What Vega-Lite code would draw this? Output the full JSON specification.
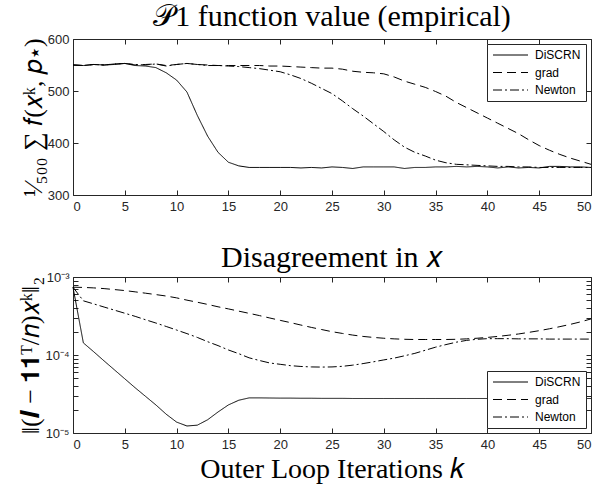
{
  "$schema": "https://vega.github.io/schema/vega-lite/v6.json",
  "background": "white",
  "padding": {"left": 17, "top": 1, "right": 9, "bottom": 0},
  "spacing": 28,
  "config": {
    "view": {"stroke": "#262626", "strokeWidth": 1},
    "axis": {
      "domain": false, "grid": false, "ticks": true, "tickSize": -5, "tickColor": "#262626",
      "labelFont": "Liberation Sans", "labelFontSize": 13, "labelColor": "#262626", "labelPadding": 10,
      "titleFont": "Liberation Serif", "titleFontWeight": "normal", "titleColor": "black", "titleFontSize": 26
    },
    "legend": {
      "strokeColor": "#262626", "fillColor": "white", "padding": 5, "offset": 5, "title": null,
      "labelFont": "Liberation Sans", "labelFontSize": 12, "labelColor": "black",
      "symbolType": "M-1,0L6,0", "symbolSize": 100, "symbolStrokeWidth": 1, "symbolStrokeColor": "black", "symbolFillColor": "transparent",
      "rowPadding": 5.5, "labelOffset": 31
    },
    "title": {"font": "Liberation Serif", "fontSize": 30, "fontWeight": "normal", "color": "black", "frame": "group"}
  },
  "datasets": {
    "top": [
{"k":0,"s":"DiSCRN","v":550},{"k":1,"s":"DiSCRN","v":549},{"k":2,"s":"DiSCRN","v":551},{"k":3,"s":"DiSCRN","v":550},{"k":4,"s":"DiSCRN","v":551},{"k":5,"s":"DiSCRN","v":553},{"k":6,"s":"DiSCRN","v":549},{"k":7,"s":"DiSCRN","v":548},{"k":8,"s":"DiSCRN","v":545},{"k":9,"s":"DiSCRN","v":535},{"k":10,"s":"DiSCRN","v":521},{"k":11,"s":"DiSCRN","v":498},{"k":12,"s":"DiSCRN","v":453},{"k":13,"s":"DiSCRN","v":413},{"k":14,"s":"DiSCRN","v":382},{"k":15,"s":"DiSCRN","v":363},{"k":16,"s":"DiSCRN","v":356},{"k":17,"s":"DiSCRN","v":353},{"k":18,"s":"DiSCRN","v":353},{"k":19,"s":"DiSCRN","v":353},{"k":20,"s":"DiSCRN","v":353},{"k":21,"s":"DiSCRN","v":353},{"k":22,"s":"DiSCRN","v":352},{"k":23,"s":"DiSCRN","v":353},{"k":24,"s":"DiSCRN","v":352},{"k":25,"s":"DiSCRN","v":354},{"k":26,"s":"DiSCRN","v":353},{"k":27,"s":"DiSCRN","v":351},{"k":28,"s":"DiSCRN","v":354},{"k":29,"s":"DiSCRN","v":354},{"k":30,"s":"DiSCRN","v":354},{"k":31,"s":"DiSCRN","v":354},{"k":32,"s":"DiSCRN","v":351},{"k":33,"s":"DiSCRN","v":353},{"k":34,"s":"DiSCRN","v":353},{"k":35,"s":"DiSCRN","v":354},{"k":36,"s":"DiSCRN","v":354},{"k":37,"s":"DiSCRN","v":355},{"k":38,"s":"DiSCRN","v":354},{"k":39,"s":"DiSCRN","v":355},{"k":40,"s":"DiSCRN","v":354},{"k":41,"s":"DiSCRN","v":352},{"k":42,"s":"DiSCRN","v":354},{"k":43,"s":"DiSCRN","v":352},{"k":44,"s":"DiSCRN","v":353},{"k":45,"s":"DiSCRN","v":352},{"k":46,"s":"DiSCRN","v":355},{"k":47,"s":"DiSCRN","v":355},{"k":48,"s":"DiSCRN","v":354},{"k":49,"s":"DiSCRN","v":354},{"k":50,"s":"DiSCRN","v":353},
{"k":0,"s":"grad","v":550},{"k":1,"s":"grad","v":549},{"k":2,"s":"grad","v":551},{"k":3,"s":"grad","v":550},{"k":4,"s":"grad","v":552},{"k":5,"s":"grad","v":553},{"k":6,"s":"grad","v":550},{"k":7,"s":"grad","v":551},{"k":8,"s":"grad","v":552},{"k":9,"s":"grad","v":549},{"k":10,"s":"grad","v":551},{"k":11,"s":"grad","v":553},{"k":12,"s":"grad","v":551},{"k":13,"s":"grad","v":550},{"k":14,"s":"grad","v":549},{"k":15,"s":"grad","v":549},{"k":16,"s":"grad","v":549},{"k":17,"s":"grad","v":549},{"k":18,"s":"grad","v":549},{"k":19,"s":"grad","v":548},{"k":20,"s":"grad","v":548},{"k":21,"s":"grad","v":547},{"k":22,"s":"grad","v":546},{"k":23,"s":"grad","v":545},{"k":24,"s":"grad","v":544},{"k":25,"s":"grad","v":544},{"k":26,"s":"grad","v":542},{"k":27,"s":"grad","v":538},{"k":28,"s":"grad","v":536},{"k":29,"s":"grad","v":535},{"k":30,"s":"grad","v":533},{"k":31,"s":"grad","v":527},{"k":32,"s":"grad","v":519},{"k":33,"s":"grad","v":513},{"k":34,"s":"grad","v":507},{"k":35,"s":"grad","v":499},{"k":36,"s":"grad","v":490},{"k":37,"s":"grad","v":478},{"k":38,"s":"grad","v":468},{"k":39,"s":"grad","v":458},{"k":40,"s":"grad","v":448},{"k":41,"s":"grad","v":438},{"k":42,"s":"grad","v":428},{"k":43,"s":"grad","v":418},{"k":44,"s":"grad","v":406},{"k":45,"s":"grad","v":395},{"k":46,"s":"grad","v":386},{"k":47,"s":"grad","v":378},{"k":48,"s":"grad","v":371},{"k":49,"s":"grad","v":365},{"k":50,"s":"grad","v":359},
{"k":0,"s":"Newton","v":550},{"k":1,"s":"Newton","v":549},{"k":2,"s":"Newton","v":551},{"k":3,"s":"Newton","v":550},{"k":4,"s":"Newton","v":552},{"k":5,"s":"Newton","v":553},{"k":6,"s":"Newton","v":551},{"k":7,"s":"Newton","v":550},{"k":8,"s":"Newton","v":552},{"k":9,"s":"Newton","v":548},{"k":10,"s":"Newton","v":551},{"k":11,"s":"Newton","v":553},{"k":12,"s":"Newton","v":551},{"k":13,"s":"Newton","v":549},{"k":14,"s":"Newton","v":549},{"k":15,"s":"Newton","v":548},{"k":16,"s":"Newton","v":547},{"k":17,"s":"Newton","v":545},{"k":18,"s":"Newton","v":543},{"k":19,"s":"Newton","v":540},{"k":20,"s":"Newton","v":537},{"k":21,"s":"Newton","v":531},{"k":22,"s":"Newton","v":524},{"k":23,"s":"Newton","v":515},{"k":24,"s":"Newton","v":505},{"k":25,"s":"Newton","v":495},{"k":26,"s":"Newton","v":481},{"k":27,"s":"Newton","v":466},{"k":28,"s":"Newton","v":452},{"k":29,"s":"Newton","v":437},{"k":30,"s":"Newton","v":422},{"k":31,"s":"Newton","v":406},{"k":32,"s":"Newton","v":392},{"k":33,"s":"Newton","v":382},{"k":34,"s":"Newton","v":375},{"k":35,"s":"Newton","v":367},{"k":36,"s":"Newton","v":362},{"k":37,"s":"Newton","v":359},{"k":38,"s":"Newton","v":358},{"k":39,"s":"Newton","v":357},{"k":40,"s":"Newton","v":356},{"k":41,"s":"Newton","v":355},{"k":42,"s":"Newton","v":355},{"k":43,"s":"Newton","v":354},{"k":44,"s":"Newton","v":354},{"k":45,"s":"Newton","v":353},{"k":46,"s":"Newton","v":353},{"k":47,"s":"Newton","v":353},{"k":48,"s":"Newton","v":353},{"k":49,"s":"Newton","v":353},{"k":50,"s":"Newton","v":353}
    ],
    "bot": [
{"k":0,"s":"DiSCRN","v":7.4e-4},{"k":1,"s":"DiSCRN","v":1.43e-4},{"k":2,"s":"DiSCRN","v":1.10e-4},{"k":3,"s":"DiSCRN","v":8.4e-5},{"k":4,"s":"DiSCRN","v":6.45e-5},{"k":5,"s":"DiSCRN","v":4.95e-5},{"k":6,"s":"DiSCRN","v":3.8e-5},{"k":7,"s":"DiSCRN","v":2.95e-5},{"k":8,"s":"DiSCRN","v":2.29e-5},{"k":9,"s":"DiSCRN","v":1.74e-5},{"k":10,"s":"DiSCRN","v":1.38e-5},{"k":11,"s":"DiSCRN","v":1.23e-5},{"k":12,"s":"DiSCRN","v":1.26e-5},{"k":13,"s":"DiSCRN","v":1.48e-5},{"k":14,"s":"DiSCRN","v":1.86e-5},{"k":15,"s":"DiSCRN","v":2.29e-5},{"k":16,"s":"DiSCRN","v":2.63e-5},{"k":17,"s":"DiSCRN","v":2.82e-5},{"k":18,"s":"DiSCRN","v":2.82e-5},{"k":19,"s":"DiSCRN","v":2.81e-5},{"k":20,"s":"DiSCRN","v":2.80e-5},{"k":21,"s":"DiSCRN","v":2.80e-5},{"k":22,"s":"DiSCRN","v":2.79e-5},{"k":23,"s":"DiSCRN","v":2.79e-5},{"k":24,"s":"DiSCRN","v":2.78e-5},{"k":25,"s":"DiSCRN","v":2.78e-5},{"k":26,"s":"DiSCRN","v":2.78e-5},{"k":27,"s":"DiSCRN","v":2.77e-5},{"k":28,"s":"DiSCRN","v":2.77e-5},{"k":29,"s":"DiSCRN","v":2.77e-5},{"k":30,"s":"DiSCRN","v":2.77e-5},{"k":31,"s":"DiSCRN","v":2.77e-5},{"k":32,"s":"DiSCRN","v":2.77e-5},{"k":33,"s":"DiSCRN","v":2.77e-5},{"k":34,"s":"DiSCRN","v":2.77e-5},{"k":35,"s":"DiSCRN","v":2.77e-5},{"k":36,"s":"DiSCRN","v":2.77e-5},{"k":37,"s":"DiSCRN","v":2.77e-5},{"k":38,"s":"DiSCRN","v":2.77e-5},{"k":39,"s":"DiSCRN","v":2.77e-5},{"k":40,"s":"DiSCRN","v":2.77e-5},{"k":41,"s":"DiSCRN","v":2.77e-5},{"k":42,"s":"DiSCRN","v":2.77e-5},{"k":43,"s":"DiSCRN","v":2.77e-5},{"k":44,"s":"DiSCRN","v":2.77e-5},{"k":45,"s":"DiSCRN","v":2.77e-5},{"k":46,"s":"DiSCRN","v":2.77e-5},{"k":47,"s":"DiSCRN","v":2.77e-5},{"k":48,"s":"DiSCRN","v":2.77e-5},{"k":49,"s":"DiSCRN","v":2.77e-5},{"k":50,"s":"DiSCRN","v":2.77e-5},
{"k":0,"s":"grad","v":7.4e-4},{"k":1,"s":"grad","v":7.35e-4},{"k":2,"s":"grad","v":7.25e-4},{"k":3,"s":"grad","v":7.1e-4},{"k":4,"s":"grad","v":6.9e-4},{"k":5,"s":"grad","v":6.7e-4},{"k":6,"s":"grad","v":6.45e-4},{"k":7,"s":"grad","v":6.2e-4},{"k":8,"s":"grad","v":5.95e-4},{"k":9,"s":"grad","v":5.7e-4},{"k":10,"s":"grad","v":5.4e-4},{"k":11,"s":"grad","v":5.05e-4},{"k":12,"s":"grad","v":4.75e-4},{"k":13,"s":"grad","v":4.45e-4},{"k":14,"s":"grad","v":4.15e-4},{"k":15,"s":"grad","v":3.9e-4},{"k":16,"s":"grad","v":3.65e-4},{"k":17,"s":"grad","v":3.42e-4},{"k":18,"s":"grad","v":3.2e-4},{"k":19,"s":"grad","v":2.98e-4},{"k":20,"s":"grad","v":2.78e-4},{"k":21,"s":"grad","v":2.6e-4},{"k":22,"s":"grad","v":2.42e-4},{"k":23,"s":"grad","v":2.26e-4},{"k":24,"s":"grad","v":2.12e-4},{"k":25,"s":"grad","v":1.99e-4},{"k":26,"s":"grad","v":1.89e-4},{"k":27,"s":"grad","v":1.8e-4},{"k":28,"s":"grad","v":1.73e-4},{"k":29,"s":"grad","v":1.68e-4},{"k":30,"s":"grad","v":1.64e-4},{"k":31,"s":"grad","v":1.61e-4},{"k":32,"s":"grad","v":1.59e-4},{"k":33,"s":"grad","v":1.58e-4},{"k":34,"s":"grad","v":1.58e-4},{"k":35,"s":"grad","v":1.58e-4},{"k":36,"s":"grad","v":1.58e-4},{"k":37,"s":"grad","v":1.59e-4},{"k":38,"s":"grad","v":1.61e-4},{"k":39,"s":"grad","v":1.64e-4},{"k":40,"s":"grad","v":1.68e-4},{"k":41,"s":"grad","v":1.73e-4},{"k":42,"s":"grad","v":1.79e-4},{"k":43,"s":"grad","v":1.86e-4},{"k":44,"s":"grad","v":1.95e-4},{"k":45,"s":"grad","v":2.05e-4},{"k":46,"s":"grad","v":2.17e-4},{"k":47,"s":"grad","v":2.31e-4},{"k":48,"s":"grad","v":2.47e-4},{"k":49,"s":"grad","v":2.66e-4},{"k":50,"s":"grad","v":2.9e-4},
{"k":0,"s":"Newton","v":7.4e-4},{"k":1,"s":"Newton","v":4.95e-4},{"k":2,"s":"Newton","v":4.52e-4},{"k":3,"s":"Newton","v":4.12e-4},{"k":4,"s":"Newton","v":3.76e-4},{"k":5,"s":"Newton","v":3.43e-4},{"k":6,"s":"Newton","v":3.13e-4},{"k":7,"s":"Newton","v":2.83e-4},{"k":8,"s":"Newton","v":2.57e-4},{"k":9,"s":"Newton","v":2.32e-4},{"k":10,"s":"Newton","v":2.09e-4},{"k":11,"s":"Newton","v":1.88e-4},{"k":12,"s":"Newton","v":1.68e-4},{"k":13,"s":"Newton","v":1.48e-4},{"k":14,"s":"Newton","v":1.32e-4},{"k":15,"s":"Newton","v":1.16e-4},{"k":16,"s":"Newton","v":1.04e-4},{"k":17,"s":"Newton","v":9.2e-5},{"k":18,"s":"Newton","v":8.5e-5},{"k":19,"s":"Newton","v":7.9e-5},{"k":20,"s":"Newton","v":7.6e-5},{"k":21,"s":"Newton","v":7.3e-5},{"k":22,"s":"Newton","v":7.13e-5},{"k":23,"s":"Newton","v":7.03e-5},{"k":24,"s":"Newton","v":7.0e-5},{"k":25,"s":"Newton","v":7.03e-5},{"k":26,"s":"Newton","v":7.16e-5},{"k":27,"s":"Newton","v":7.41e-5},{"k":28,"s":"Newton","v":7.76e-5},{"k":29,"s":"Newton","v":8.18e-5},{"k":30,"s":"Newton","v":8.65e-5},{"k":31,"s":"Newton","v":9.12e-5},{"k":32,"s":"Newton","v":9.77e-5},{"k":33,"s":"Newton","v":1.05e-4},{"k":34,"s":"Newton","v":1.15e-4},{"k":35,"s":"Newton","v":1.26e-4},{"k":36,"s":"Newton","v":1.36e-4},{"k":37,"s":"Newton","v":1.46e-4},{"k":38,"s":"Newton","v":1.54e-4},{"k":39,"s":"Newton","v":1.59e-4},{"k":40,"s":"Newton","v":1.62e-4},{"k":41,"s":"Newton","v":1.62e-4},{"k":42,"s":"Newton","v":1.62e-4},{"k":43,"s":"Newton","v":1.61e-4},{"k":44,"s":"Newton","v":1.61e-4},{"k":45,"s":"Newton","v":1.61e-4},{"k":46,"s":"Newton","v":1.60e-4},{"k":47,"s":"Newton","v":1.60e-4},{"k":48,"s":"Newton","v":1.60e-4},{"k":49,"s":"Newton","v":1.60e-4},{"k":50,"s":"Newton","v":1.60e-4}
    ]
  },
  "vconcat": [
    {
      "width": 518, "height": 156,
      "title": {"text": "𝒫1 function value (empirical)", "offset": 1},
      "data": {"name": "top"},
      "layer": [
        {
          "mark": {"type": "line", "color": "black", "strokeWidth": 1},
          "encoding": {
            "x": {"field": "k", "type": "quantitative", "scale": {"domain": [0, 50], "nice": false},
                  "axis": {"values": [0,5,10,15,20,25,30,35,40,45,50], "title": null}},
            "y": {"field": "v", "type": "quantitative", "scale": {"domain": [300, 600], "nice": false},
                  "axis": {"values": [300,400,500,600], "title": "¹⁄₅₀₀ ∑ 𝑓(𝑥ᵏ, 𝑝⋆)", "titlePadding": 1, "labelPadding": 9}},
            "strokeDash": {"field": "s", "type": "nominal",
                  "scale": {"domain": ["DiSCRN","grad","Newton"], "range": [[1,0],[9,5],[9,3,2,3]]},
                  "legend": {"orient": "top-right"}}
          }
        },
        {
          "mark": {"type": "line", "opacity": 0},
          "encoding": {
            "x": {"field": "k", "type": "quantitative", "scale": {"domain": [0, 50], "nice": false},
                  "axis": {"orient": "top", "values": [0,5,10,15,20,25,30,35,40,45,50], "labels": false, "title": null}},
            "y": {"field": "v", "type": "quantitative", "scale": {"domain": [300, 600], "nice": false},
                  "axis": {"orient": "right", "values": [300,400,500,600], "labels": false, "title": null}},
            "detail": {"field": "s", "type": "nominal"}
          }
        }
      ],
      "resolve": {"axis": {"x": "independent", "y": "independent"}}
    },
    {
      "width": 518, "height": 156,
      "title": {"text": "Disagreement in 𝑥", "offset": -2},
      "data": {"name": "bot"},
      "layer": [
        {
          "mark": {"type": "line", "color": "black", "strokeWidth": 1},
          "encoding": {
            "x": {"field": "k", "type": "quantitative", "scale": {"domain": [0, 50], "nice": false},
                  "axis": {"values": [0,5,10,15,20,25,30,35,40,45,50], "title": "Outer Loop Iterations 𝑘", "titleFontSize": 28, "titlePadding": 4}},
            "y": {"field": "v", "type": "quantitative", "scale": {"type": "log", "domain": [1e-5, 1e-3], "nice": false},
                  "axis": {"values": [1e-5,2e-5,3e-5,4e-5,5e-5,6e-5,7e-5,8e-5,9e-5,1e-4,2e-4,3e-4,4e-4,5e-4,6e-4,7e-4,8e-4,9e-4,1e-3],
                           "labelExpr": "datum.value == 0.001 ? '10⁻³' : datum.value == 0.0001 ? '10⁻⁴' : datum.value == 0.00001 ? '10⁻⁵' : ''",
                           "title": "‖(𝑰 − 𝟏𝟏ᵀ/𝑛)𝑥ᵏ‖₂", "titlePadding": 1, "labelPadding": 9}},
            "strokeDash": {"field": "s", "type": "nominal",
                  "scale": {"domain": ["DiSCRN","grad","Newton"], "range": [[1,0],[9,5],[9,3,2,3]]},
                  "legend": {"orient": "bottom-right"}}
          }
        },
        {
          "mark": {"type": "line", "opacity": 0},
          "encoding": {
            "x": {"field": "k", "type": "quantitative", "scale": {"domain": [0, 50], "nice": false},
                  "axis": {"orient": "top", "values": [0,5,10,15,20,25,30,35,40,45,50], "labels": false, "title": null}},
            "y": {"field": "v", "type": "quantitative", "scale": {"type": "log", "domain": [1e-5, 1e-3], "nice": false},
                  "axis": {"orient": "right", "values": [1e-5,2e-5,3e-5,4e-5,5e-5,6e-5,7e-5,8e-5,9e-5,1e-4,2e-4,3e-4,4e-4,5e-4,6e-4,7e-4,8e-4,9e-4,1e-3], "labels": false, "title": null}},
            "detail": {"field": "s", "type": "nominal"}
          }
        }
      ],
      "resolve": {"axis": {"x": "independent", "y": "independent"}}
    }
  ],
  "resolve": {"scale": {"strokeDash": "independent"}, "legend": {"strokeDash": "independent"}}
}
